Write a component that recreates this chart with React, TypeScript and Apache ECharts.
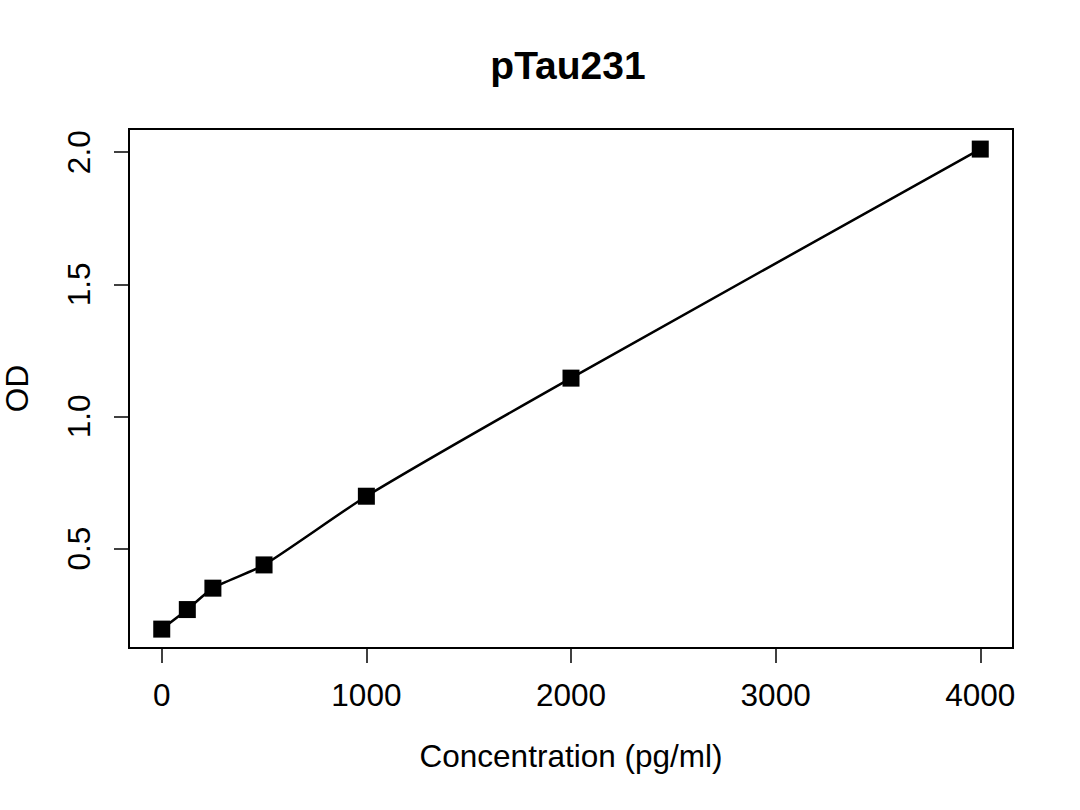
import { useRef, useEffect } from "react";
import * as echarts from "echarts";

// standard curve points
const concentration = [0, 125, 250, 500, 1000, 2000, 4000];
const od = [0.195, 0.269, 0.35, 0.438, 0.698, 1.145, 2.012];

const xTicks = [0, 1000, 2000, 3000, 4000];
const yTicks = [0.5, 1.0, 1.5, 2.0];

const FONT = "'Liberation Sans', Arial, sans-serif";

const App = () => {
  const chartRef = useRef<HTMLDivElement>(null);

  useEffect(() => {
    const chart = echarts.init(chartRef.current, null, { renderer: "svg" });

    const option = {
      animation: false,
      backgroundColor: "#fff",
      title: {
        text: "pTau231",
        left: 563,
        textAlign: "center",
        top: 41,
        textStyle: { fontFamily: FONT, fontSize: 39, fontWeight: "bold", color: "#000" },
      },
      grid: {
        left: 129,
        right: 67,
        top: 129,
        bottom: 162,
        outerBoundsMode: "none",
        containLabel: false,
        show: true,
        borderColor: "#000",
        borderWidth: 2,
        backgroundColor: "transparent",
      },
      xAxis: {
        type: "value",
        min: -160,
        max: 4160,
        splitLine: { show: false },
        axisLine: { show: false, onZero: false },
        axisTick: { show: true, length: 15, customValues: xTicks, lineStyle: { color: "#000", width: 1.5 } },
        axisLabel: {
          customValues: xTicks,
          margin: 31,
          fontFamily: FONT,
          fontSize: 31.5,
          color: "#000",
          formatter: (v: number) => String(v),
        },
        name: "Concentration (pg/ml)",
        nameLocation: "middle",
        nameGap: 92,
        nameTextStyle: { fontFamily: FONT, fontSize: 31.5, color: "#000" },
      },
      yAxis: {
        type: "value",
        min: 0.1235,
        max: 2.088,
        splitLine: { show: false },
        axisLine: { show: false, onZero: false },
        axisTick: { show: true, length: 15, customValues: yTicks, lineStyle: { color: "#000", width: 1.5 } },
        axisLabel: {
          customValues: yTicks,
          rotate: 90,
          margin: 34,
          fontFamily: FONT,
          fontSize: 31.5,
          color: "#000",
          formatter: (v: number) => v.toFixed(1),
        },
        name: "OD",
        nameLocation: "middle",
        nameGap: 96,
        nameTextStyle: { fontFamily: FONT, fontSize: 31.5, color: "#000" },
      },
      series: [
        {
          type: "line",
          data: concentration.map((c, i) => [c, od[i]]),
          symbol: "rect",
          symbolSize: 17,
          smooth: 0.2,
          itemStyle: { color: "#000" },
          lineStyle: { color: "#000", width: 2.5 },
        },
      ],
    };

    chart.setOption(option);

    return () => {
      chart.dispose();
    };
  }, []);

  return (
    <div
      ref={chartRef}
      style={{ position: "absolute", left: 0, top: 0, width: "1080px", height: "810px" }}
    ></div>
  );
};

export default App;
